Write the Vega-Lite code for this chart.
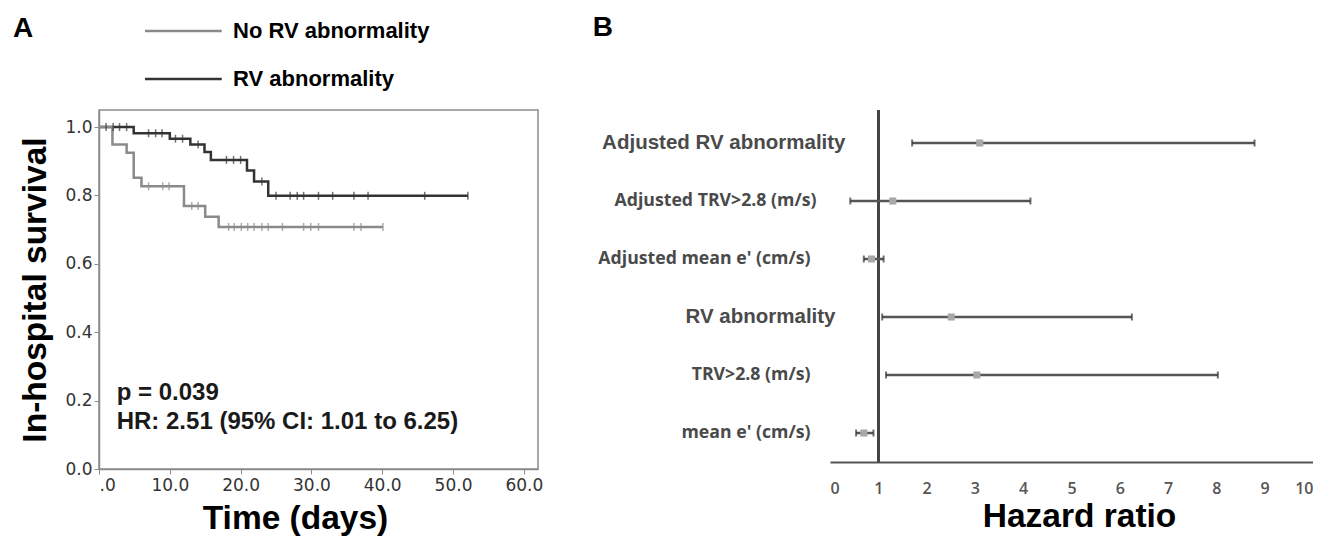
{
  "$schema": "https://vega.github.io/schema/vega-lite/v6.json",
  "background": "white",
  "padding": {"left": 12, "top": 13, "right": 0, "bottom": 0},
  "spacing": 48,
  "config": {"font": "Liberation Sans"},
  "datasets": {
    "km": [
      {"group": "RV abnormality", "t": 0, "s": 1.0},
      {"group": "RV abnormality", "t": 4.9, "s": 0.982},
      {"group": "RV abnormality", "t": 10.0, "s": 0.966},
      {"group": "RV abnormality", "t": 12.9, "s": 0.949},
      {"group": "RV abnormality", "t": 14.9, "s": 0.927},
      {"group": "RV abnormality", "t": 15.8, "s": 0.904},
      {"group": "RV abnormality", "t": 20.9, "s": 0.873},
      {"group": "RV abnormality", "t": 21.9, "s": 0.841},
      {"group": "RV abnormality", "t": 23.9, "s": 0.799},
      {"group": "RV abnormality", "t": 52.1, "s": 0.799},
      {"group": "No RV abnormality", "t": 0, "s": 1.0},
      {"group": "No RV abnormality", "t": 1.9, "s": 0.949},
      {"group": "No RV abnormality", "t": 3.9, "s": 0.925},
      {"group": "No RV abnormality", "t": 4.9, "s": 0.852},
      {"group": "No RV abnormality", "t": 6.0, "s": 0.827},
      {"group": "No RV abnormality", "t": 12.0, "s": 0.769},
      {"group": "No RV abnormality", "t": 15.0, "s": 0.738},
      {"group": "No RV abnormality", "t": 16.9, "s": 0.708},
      {"group": "No RV abnormality", "t": 40.1, "s": 0.708}
    ],
    "censor": [
      {"group": "RV abnormality", "t": 1.0, "s": 1.0},
      {"group": "RV abnormality", "t": 2.0, "s": 1.0},
      {"group": "RV abnormality", "t": 2.9, "s": 1.0},
      {"group": "RV abnormality", "t": 3.9, "s": 1.0},
      {"group": "RV abnormality", "t": 7.0, "s": 0.982},
      {"group": "RV abnormality", "t": 8.0, "s": 0.982},
      {"group": "RV abnormality", "t": 8.9, "s": 0.982},
      {"group": "RV abnormality", "t": 10.8, "s": 0.966},
      {"group": "RV abnormality", "t": 11.8, "s": 0.966},
      {"group": "RV abnormality", "t": 14.0, "s": 0.949},
      {"group": "RV abnormality", "t": 18.0, "s": 0.904},
      {"group": "RV abnormality", "t": 19.0, "s": 0.904},
      {"group": "RV abnormality", "t": 20.0, "s": 0.904},
      {"group": "RV abnormality", "t": 23.0, "s": 0.841},
      {"group": "RV abnormality", "t": 25.0, "s": 0.799},
      {"group": "RV abnormality", "t": 27.0, "s": 0.799},
      {"group": "RV abnormality", "t": 28.0, "s": 0.799},
      {"group": "RV abnormality", "t": 28.9, "s": 0.799},
      {"group": "RV abnormality", "t": 31.0, "s": 0.799},
      {"group": "RV abnormality", "t": 33.0, "s": 0.799},
      {"group": "RV abnormality", "t": 36.0, "s": 0.799},
      {"group": "RV abnormality", "t": 38.0, "s": 0.799},
      {"group": "RV abnormality", "t": 46.0, "s": 0.799},
      {"group": "RV abnormality", "t": 52.1, "s": 0.799},
      {"group": "No RV abnormality", "t": 7.0, "s": 0.827},
      {"group": "No RV abnormality", "t": 9.0, "s": 0.827},
      {"group": "No RV abnormality", "t": 9.9, "s": 0.827},
      {"group": "No RV abnormality", "t": 13.1, "s": 0.769},
      {"group": "No RV abnormality", "t": 14.0, "s": 0.769},
      {"group": "No RV abnormality", "t": 18.3, "s": 0.708},
      {"group": "No RV abnormality", "t": 19.1, "s": 0.708},
      {"group": "No RV abnormality", "t": 20.1, "s": 0.708},
      {"group": "No RV abnormality", "t": 21.0, "s": 0.708},
      {"group": "No RV abnormality", "t": 21.9, "s": 0.708},
      {"group": "No RV abnormality", "t": 23.0, "s": 0.708},
      {"group": "No RV abnormality", "t": 23.9, "s": 0.708},
      {"group": "No RV abnormality", "t": 25.9, "s": 0.708},
      {"group": "No RV abnormality", "t": 28.9, "s": 0.708},
      {"group": "No RV abnormality", "t": 29.9, "s": 0.708},
      {"group": "No RV abnormality", "t": 31.0, "s": 0.708},
      {"group": "No RV abnormality", "t": 36.0, "s": 0.708},
      {"group": "No RV abnormality", "t": 37.0, "s": 0.708},
      {"group": "No RV abnormality", "t": 40.1, "s": 0.708}
    ],
    "annot": [
      {"label": "p = 0.039", "t": 2.5, "s": 0.201},
      {"label": "HR: 2.51 (95% CI: 1.01 to 6.25)", "t": 2.5, "s": 0.118}
    ],
    "forest": [
      {"label": "Adjusted RV abnormality", "hr": 3.10, "lo": 1.70, "hi": 8.79},
      {"label": "Adjusted TRV>2.8 (m/s)", "hr": 1.30, "lo": 0.42, "hi": 4.15},
      {"label": "Adjusted mean e' (cm/s)", "hr": 0.86, "lo": 0.70, "hi": 1.11},
      {"label": "RV abnormality", "hr": 2.51, "lo": 1.08, "hi": 6.25},
      {"label": "TRV>2.8 (m/s)", "hr": 3.04, "lo": 1.16, "hi": 8.03},
      {"label": "mean e' (cm/s)", "hr": 0.70, "lo": 0.54, "hi": 0.90}
    ]
  },
  "hconcat": [
    {
      "title": {"text": "A", "anchor": "start", "fontSize": 28, "font": "Liberation Sans", "fontWeight": "bold", "color": "#000000", "offset": 67, "dx": -6},
      "width": 439,
      "height": 359,
      "view": {"stroke": "#8c8c8c", "strokeWidth": 1.5},
      "layer": [
        {
          "data": {"name": "km"},
          "mark": {"type": "line", "interpolate": "step-after", "strokeWidth": 2.5},
          "encoding": {
            "x": {"field": "t", "type": "quantitative",
              "scale": {"domain": [0, 62], "nice": false, "zero": false},
              "axis": {"values": [0, 10, 20, 30, 40, 50, 60], "labelExpr": "datum.value == 0 ? '.0' : format(datum.value, '.1f')",
                "grid": false, "domainColor": "#8c8c8c", "domainWidth": 1.5, "tickColor": "#8c8c8c", "tickSize": 5,
                "labelFont": "DejaVu Sans", "labelFontSize": 17, "labelColor": "#333333", "labelPadding": 3,
                "title": "Time (days)", "titleFont": "Liberation Sans", "titleFontSize": 33.5, "titleFontWeight": "bold", "titleColor": "#000000", "titlePadding": 9, "titleX": 196}},
            "y": {"field": "s", "type": "quantitative",
              "scale": {"domain": [0, 1.05], "nice": false},
              "axis": {"values": [0, 0.2, 0.4, 0.6, 0.8, 1.0], "format": ".1f",
                "grid": false, "domainColor": "#8c8c8c", "domainWidth": 1.5, "tickColor": "#8c8c8c", "tickSize": 5,
                "labelFont": "DejaVu Sans", "labelFontSize": 17, "labelColor": "#333333", "labelPadding": 2,
                "title": "In-hospital survival", "titleFont": "Liberation Sans", "titleFontSize": 33.5, "titleFontWeight": "bold", "titleColor": "#000000", "titlePadding": 12}},
            "color": {"field": "group", "type": "nominal",
              "scale": {"domain": ["No RV abnormality", "RV abnormality"], "range": ["#8a8a8a", "#333333"]},
              "legend": {"orient": "none", "legendX": 35, "legendY": -90, "title": null, "padding": 0,
                "symbolType": "M0,0H32", "symbolSize": 23, "symbolStrokeWidth": 2.5,
                "labelFont": "Liberation Sans", "labelFontSize": 22, "labelFontWeight": "bold", "labelColor": "#000000",
                "labelLimit": 400, "labelOffset": 77, "rowPadding": 26, "labelBaseline": "middle"}}
          }
        },
        {
          "data": {"name": "censor"},
          "mark": {"type": "tick", "orient": "vertical", "size": 8, "thickness": 1.5},
          "encoding": {
            "x": {"field": "t", "type": "quantitative"},
            "y": {"field": "s", "type": "quantitative"},
            "color": {"field": "group", "type": "nominal", "legend": null}
          }
        },
        {
          "data": {"name": "annot"},
          "mark": {"type": "text", "align": "left", "baseline": "alphabetic", "font": "Liberation Sans", "fontWeight": "bold", "fontSize": 24, "color": "#1a1a1a"},
          "encoding": {
            "x": {"field": "t", "type": "quantitative"},
            "y": {"field": "s", "type": "quantitative"},
            "text": {"field": "label"}
          }
        }
      ]
    },
    {
      "title": {"text": "B", "anchor": "start", "fontSize": 28, "font": "Liberation Sans", "fontWeight": "bold", "color": "#000000", "offset": 67, "dx": -5},
      "width": 483,
      "height": 352,
      "view": {"stroke": null},
      "data": {"name": "forest"},
      "layer": [
        {
          "mark": {"type": "rule", "color": "#444444", "strokeWidth": 2.5},
          "encoding": {"x": {"datum": 1, "type": "quantitative"}}
        },
        {
          "mark": {"type": "rule", "color": "#555555", "strokeWidth": 2.5},
          "encoding": {
            "x": {"field": "lo", "type": "quantitative",
              "scale": {"domain": [0, 10], "nice": false, "zero": false},
              "axis": {"values": [0, 1, 2, 3, 4, 5, 6, 7, 8, 9, 10], "grid": false, "ticks": false, "tickSize": 0,
                "domainColor": "#555555", "domainWidth": 2,
                "labelFont": "Open Sans", "labelFontSize": 16, "labelFontWeight": 600, "labelColor": "#555555", "labelPadding": 18,
                "title": "Hazard ratio", "titleFont": "Liberation Sans", "titleFontSize": 33.5, "titleFontWeight": "bold", "titleColor": "#000000", "titlePadding": 4, "titleX": 249}},
            "x2": {"field": "hi"},
            "y": {"field": "label", "type": "nominal", "sort": null,
              "scale": {"paddingInner": 0, "paddingOuter": 0.0345, "align": 1},
              "axis": {"title": null, "domain": false, "ticks": false, "tickSize": 0, "grid": false,
                "labelLimit": 400, "labelAlign": "right",
                "labelFont": {"condition": {"test": "datum.value === 'Adjusted RV abnormality' || datum.value === 'RV abnormality'", "value": "Liberation Sans"}, "value": "Open Sans"},
                "labelFontSize": {"condition": {"test": "datum.value === 'Adjusted RV abnormality' || datum.value === 'RV abnormality'", "value": 20.5}, "value": 17.7},
                "labelFontWeight": "bold",
                "labelColor": "#4a4a4a",
                "labelPadding": {"condition": [
                  {"test": "datum.value === 'Adjusted RV abnormality'", "value": -15},
                  {"test": "datum.value === 'RV abnormality'", "value": -5},
                  {"test": "datum.value === 'Adjusted TRV>2.8 (m/s)'", "value": 14}
                ], "value": 20}}}
          }
        },
        {
          "mark": {"type": "tick", "orient": "vertical", "size": 7, "thickness": 2, "color": "#333333"},
          "encoding": {"x": {"field": "lo", "type": "quantitative"}, "y": {"field": "label", "type": "nominal", "sort": null}}
        },
        {
          "mark": {"type": "tick", "orient": "vertical", "size": 7, "thickness": 2, "color": "#333333"},
          "encoding": {"x": {"field": "hi", "type": "quantitative"}, "y": {"field": "label", "type": "nominal", "sort": null}}
        },
        {
          "mark": {"type": "point", "shape": "square", "filled": true, "size": 50, "color": "#a8a8a8", "opacity": 1},
          "encoding": {"x": {"field": "hr", "type": "quantitative"}, "y": {"field": "label", "type": "nominal", "sort": null}}
        }
      ]
    }
  ]
}
